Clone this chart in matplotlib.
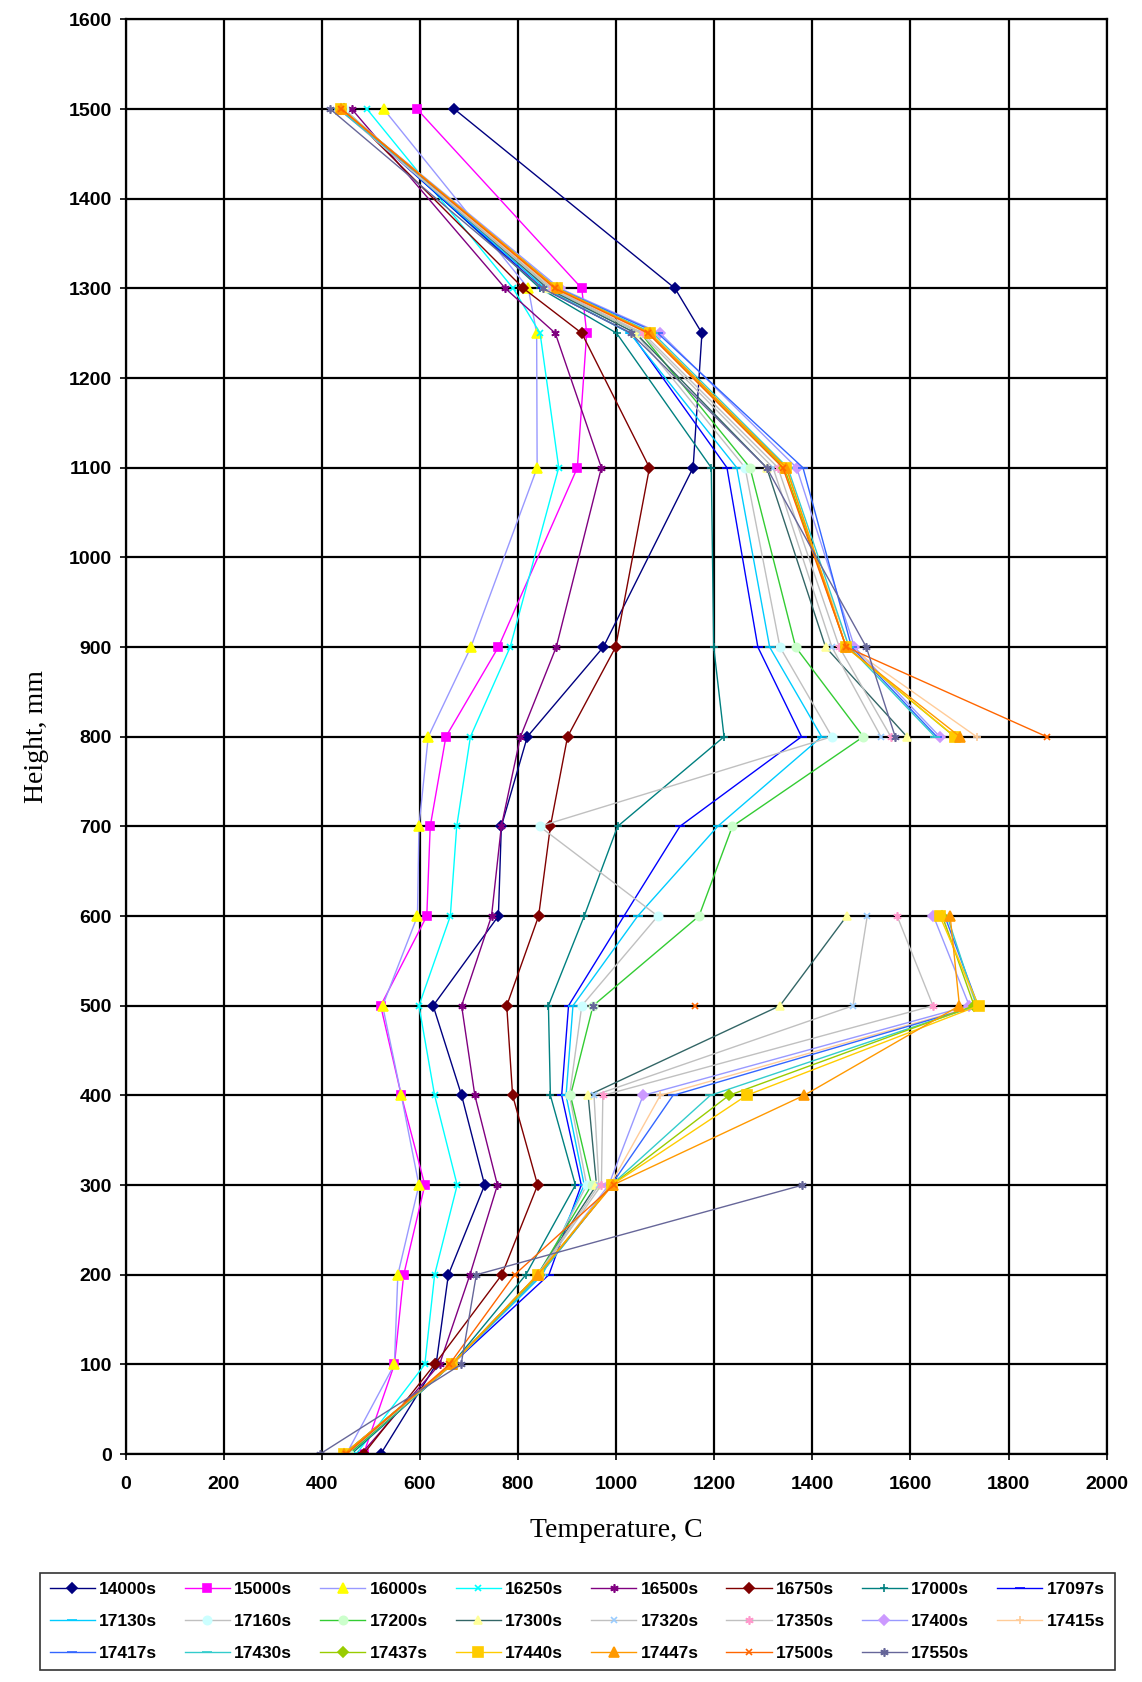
import numpy as np
import matplotlib
matplotlib.use("Agg")
import matplotlib.pyplot as plt

# heights of the thermocouples, mm
heights = [0, 100, 200, 300, 400, 500, 600, 700, 800, 900, 1100, 1250, 1300, 1500]

# temperature profiles, C (None = no reading)
t14000 = [520, 633, 658, 732, 685, 627, 760, 766, 819, 974, 1157, 1175, 1120, 670]
t15000 = [485, 548, 567, 610, 562, 520, 614, 621, 653, 760, 921, 940, 930, 594]
t16000 = [450, 548, 555, 598, 562, 524, 595, 598, 617, 704, 839, 838, 821, 526]
t16250 = [470, 610, 630, 676, 630, 598, 662, 675, 703, 784, 883, 845, 790, 492]
t16500 = [480, 640, 702, 758, 712, 685, 746, 766, 805, 878, 970, 876, 774, 461]
t16750 = [485, 630, 767, 840, 789, 777, 842, 866, 901, 999, 1068, 930, 811, 445]
t17000 = [460, 665, 816, 917, 866, 862, 935, 1003, 1220, 1199, 1194, 1001, 845, 445]
t17097 = [455, 665, 863, 929, 889, 903, 1016, 1130, 1378, 1289, 1226, 1030, 850, 440]
t17130 = [455, 665, 850, 935, 898, 912, 1044, 1207, 1419, 1313, 1246, 1028, 855, 440]
t17160 = [455, 665, 845, 940, 905, 930, 1085, 844, 1440, 1334, 1263, 1040, 860, 445]
t17200 = [455, 665, 840, 950, 907, 953, 1169, 1237, 1504, 1366, 1273, 1050, 865, 440]
t17300 = [450, 665, 840, 960, 943, 1334, 1470, None, 1593, 1427, 1307, 1040, 860, 440]
t17320 = [450, 665, 840, 965, 955, 1483, 1512, None, 1540, 1440, 1320, 1050, 865, 435]
t17350 = [450, 665, 842, 970, 973, 1646, 1573, None, 1560, 1455, 1330, 1055, 870, 435]
t17400 = [445, 665, 845, 985, 1055, 1720, 1647, None, 1660, 1486, 1368, 1090, 885, 440]
t17415 = [445, 665, 845, 988, 1090, 1735, 1665, None, 1735, 1475, 1340, 1065, 875, 435]
t17417 = [445, 665, 845, 990, 1116, 1738, 1670, None, 1654, 1480, 1381, 1085, 880, 435]
t17430 = [445, 665, 845, 990, 1192, 1735, 1675, None, 1650, 1475, 1350, 1075, 880, 435]
t17437 = [445, 665, 842, 991, 1230, 1730, 1665, None, 1690, 1469, 1343, 1069, 879, 440]
t17440 = [445, 665, 840, 991, 1266, 1739, 1660, None, 1691, 1469, 1347, 1069, 879, 440]
t17447 = [445, 665, 840, 993, 1383, 1700, 1681, None, 1701, 1469, 1347, 1069, 879, 440]
t17500 = [450, 660, 793, 995, None, 1160, None, None, 1878, 1469, 1340, 1065, 875, 440]
t17550 = [396, 684, 715, 1380, None, 953, None, None, 1569, 1510, 1307, 1030, 850, 417]

series = [t14000, t15000, t16000, t16250, t16500, t16750, t17000, t17097,
          t17130, t17160, t17200, t17300, t17320, t17350, t17400, t17415,
          t17417, t17430, t17437, t17440, t17447, t17500, t17550]
labels = ["14000s", "15000s", "16000s", "16250s", "16500s", "16750s", "17000s",
          "17097s", "17130s", "17160s", "17200s", "17300s", "17320s", "17350s",
          "17400s", "17415s", "17417s", "17430s", "17437s", "17440s", "17447s",
          "17500s", "17550s"]

AST = (6, 2, 0)  # asterisk marker, like excel's "*"
# (line colour, marker, marker face, marker size)
styles = [
    ("#000080", "D", "#000080", 5),
    ("#FF00FF", "s", "#FF00FF", 6),
    ("#9999FF", "^", "#FFFF00", 7),
    ("#00FFFF", "x", "#00FFFF", 5),
    ("#800080", AST, "#800080", 6),
    ("#800000", "D", "#800000", 5),
    ("#008080", "+", "#008080", 6),
    ("#0000FF", "_", "#0000FF", 7),
    ("#00CCFF", "_", "#00CCFF", 7),
    ("#C0C0C0", "o", "#CCFFFF", 6),
    ("#33CC33", "o", "#CCFFCC", 6),
    ("#336666", "^", "#FFFF99", 6),
    ("#C0C0C0", "x", "#99CCFF", 5),
    ("#C0C0C0", AST, "#FF99CC", 6),
    ("#9999FF", "D", "#CC99FF", 5),
    ("#FFCC99", "+", "#FFCC99", 6),
    ("#3366FF", "_", "#3366FF", 7),
    ("#33CCCC", "_", "#33CCCC", 7),
    ("#99CC00", "D", "#99CC00", 5),
    ("#FFCC00", "s", "#FFCC00", 7),
    ("#FF9900", "^", "#FF9900", 7),
    ("#FF6600", "x", "#FF6600", 5),
    ("#666699", AST, "#666699", 6),
]

plt.rcParams['font.family'] = ['Liberation Sans', 'DejaVu Sans']

fig = plt.figure(figsize=(11.42, 16.82), dpi=100)
ax = fig.add_axes([0.110, 0.1355, 0.859, 0.853])

y = np.array(heights, dtype=float)
lines = []
for vals, lab, (col, mk, face, ms) in zip(series, labels, styles):
    x = np.array([np.nan if v is None else v for v in vals], dtype=float)
    ln, = ax.plot(x, y, color=col, lw=1.0, marker=mk, ms=ms,
                  markerfacecolor=face, markeredgecolor=face, mew=1.2, label=lab)
    lines.append(ln)

ax.set_xlim(0, 2000)
ax.set_ylim(0, 1600)
ax.set_xticks(np.arange(0, 2001, 200))
ax.set_yticks(np.arange(0, 1601, 100))
ax.grid(True, color="black", lw=1.6)
ax.set_axisbelow(True)
for s in ax.spines.values():
    s.set_color("black")
    s.set_linewidth(1.6)
ax.tick_params(labelsize=14, length=4, width=1.2)
ax.tick_params(axis="x", pad=12)
ax.tick_params(axis="y", pad=6)
for t in ax.get_xticklabels() + ax.get_yticklabels():
    t.set_fontweight("bold")

ax.set_xlabel("Temperature, C", family=["Liberation Serif", "DejaVu Serif"],
              fontsize=20, labelpad=18)
ax.set_ylabel("Height, mm", family=["Liberation Serif", "DejaVu Serif"],
              fontsize=20, labelpad=14)

# legend filled row by row, 8 per row (matplotlib fills by column)
ncol = 8
order = [r * ncol + c for c in range(ncol) for r in range(3) if r * ncol + c < len(lines)]
leg = fig.legend([lines[i] for i in order], [labels[i] for i in order],
                 loc="upper left", bbox_to_anchor=(0.035, 0.003, 0.941, 0.062),
                 mode="expand", ncol=ncol, frameon=True,
                 fancybox=False, edgecolor="black", handlelength=2.6,
                 handletextpad=0.25, columnspacing=0.4, labelspacing=0.95,
                 borderaxespad=0, borderpad=0.55,
                 prop={"weight": "bold", "size": 12.5})
leg.get_frame().set_linewidth(1.2)

fig.savefig("out.png", dpi=100, facecolor="white")
